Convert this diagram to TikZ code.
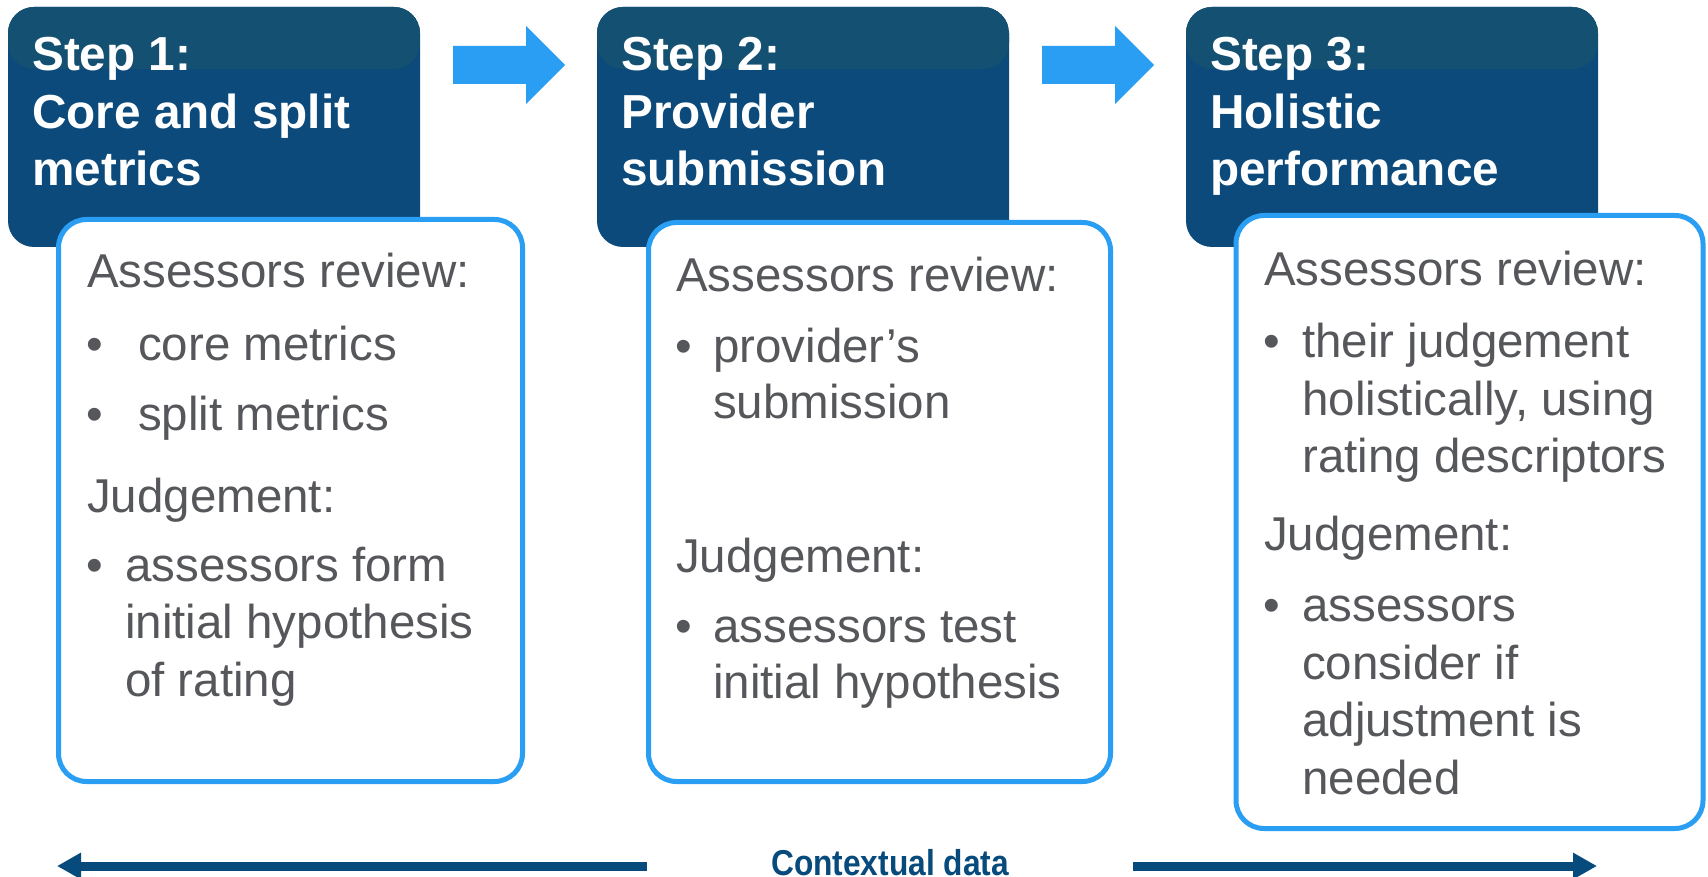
\documentclass[tikz,border=0pt]{standalone}
\usepackage{fontspec}
\setmainfont{Liberation Sans}
\usetikzlibrary{arrows.meta}
\definecolor{navy}{RGB}{11,74,122}
\definecolor{navytop}{RGB}{20,80,113}
\definecolor{sky}{RGB}{41,158,243}
\definecolor{ink}{RGB}{85,87,91}
\definecolor{ctxblue}{RGB}{7,74,124}
\begin{document}
\begin{tikzpicture}[x=1pt,y=-1pt,
  hdrbox/.style={fill=navy, rounded corners=26pt, anchor=north west, inner sep=0pt, outer sep=0pt,
    minimum width=412pt, minimum height=240pt,
    path picture={\fill[navytop] (path picture bounding box.north west) rectangle ([yshift=-62pt]path picture bounding box.north east);}},
  hdrtext/.style={anchor=base west, inner sep=0pt, text=white, font={\fontsize{47.7pt}{57pt}\selectfont\bfseries}},
  bodybox/.style={draw=sky, line width=5pt, fill=white, rounded corners=28pt, anchor=north west, inner sep=0pt, outer sep=0pt},
  bodytext/.style={anchor=base west, inner sep=0pt, text=ink, font={\fontsize{47.5pt}{57pt}\selectfont}},
  bul/.style={anchor=base, inner sep=0pt, text=ink, font={\fontsize{47.5pt}{57pt}\selectfont}},
  blockarrow/.style={fill=sky},
  ctxarrow/.style={draw=ctxblue, line width=9pt, -{Triangle[length=24pt, width=25pt]}},
  ctxtext/.style={anchor=base, inner sep=0pt, text=ctxblue, xscale=0.88, font={\fontsize{36pt}{42pt}\selectfont\bfseries}}
]
\useasboundingbox (0,0) rectangle (1708,877);
\fill[white] (0,0) rectangle (1708,877);

% step headers
\node[hdrbox] (h1) at (8,7) {};
\node[hdrbox] (h2) at (597,7) {};
\node[hdrbox] (h3) at (1186,7) {};

\node[hdrtext] (h1a) at (32,71) {Step 1:};
\node[hdrtext] (h1b) at (32,129) {Core and split};
\node[hdrtext] (h1c) at (32,186) {metrics};
\node[hdrtext] (h2a) at (621,71) {Step 2:};
\node[hdrtext] (h2b) at (621,129) {Provider};
\node[hdrtext] (h2c) at (621,186) {submission};
\node[hdrtext] (h3a) at (1210,71) {Step 3:};
\node[hdrtext] (h3b) at (1210,129) {Holistic};
\node[hdrtext] (h3c) at (1210,186) {performance};

% block arrows between the steps
\fill[blockarrow] (453,46) -- (526,46) -- (526,26) -- (565,65) -- (526,104) -- (526,84) -- (453,84) -- cycle;
\fill[blockarrow, xshift=589pt] (453,46) -- (526,46) -- (526,26) -- (565,65) -- (526,104) -- (526,84) -- (453,84) -- cycle;

% content boxes
\node[bodybox, minimum width=464pt, minimum height=562pt] (c1) at (58.5,219.5) {};
\node[bodybox, minimum width=462pt, minimum height=559pt] (c2) at (648.5,222.5) {};
\node[bodybox, minimum width=467pt, minimum height=613pt] (c3) at (1236,215.5) {};

% step 1 text
\node[bodytext] (t1a) at (87,288) {Assessors review:};
\node[bul] (t1b0) at (95,360) {•};
\node[bodytext] (t1b) at (138,360) {core metrics};
\node[bul] (t1c0) at (95,430) {•};
\node[bodytext] (t1c) at (138,430) {split metrics};
\node[bodytext] (t1d) at (87,512) {Judgement:};
\node[bul] (t1e0) at (95,581) {•};
\node[bodytext] (t1e) at (125,581) {assessors form};
\node[bodytext] (t1f) at (125,638) {initial hypothesis};
\node[bodytext] (t1g) at (125,696) {of rating};

% step 2 text
\node[bodytext] (t2a) at (676,292) {Assessors review:};
\node[bul] (t2b0) at (684,362) {•};
\node[bodytext] (t2b) at (713,362) {provider’s};
\node[bodytext] (t2c) at (713,418) {submission};
\node[bodytext] (t2d) at (676,572) {Judgement:};
\node[bul] (t2e0) at (684,642) {•};
\node[bodytext] (t2e) at (713,642) {assessors test};
\node[bodytext] (t2f) at (713,698) {initial hypothesis};

% step 3 text
\node[bodytext] (t3a) at (1264,286) {Assessors review:};
\node[bul] (t3b0) at (1272,357) {•};
\node[bodytext] (t3b) at (1302,357) {their judgement};
\node[bodytext] (t3c) at (1302,415) {holistically, using};
\node[bodytext] (t3d) at (1302,472) {rating descriptors};
\node[bodytext] (t3e) at (1264,550) {Judgement:};
\node[bul] (t3f0) at (1272,621) {•};
\node[bodytext] (t3f) at (1302,621) {assessors};
\node[bodytext] (t3g) at (1302,679) {consider if};
\node[bodytext] (t3h) at (1302,736) {adjustment is};
\node[bodytext] (t3i) at (1302,794) {needed};

% contextual data band
\node[ctxtext] (ctx) at (890,875) {Contextual data};
\coordinate (ctxL) at (647,866);
\coordinate (ctxLend) at (57,866);
\coordinate (ctxR) at (1133,866);
\coordinate (ctxRend) at (1597,866);
\draw[ctxarrow] (ctxL) -- (ctxLend);
\draw[ctxarrow] (ctxR) -- (ctxRend);
\end{tikzpicture}
\end{document}
